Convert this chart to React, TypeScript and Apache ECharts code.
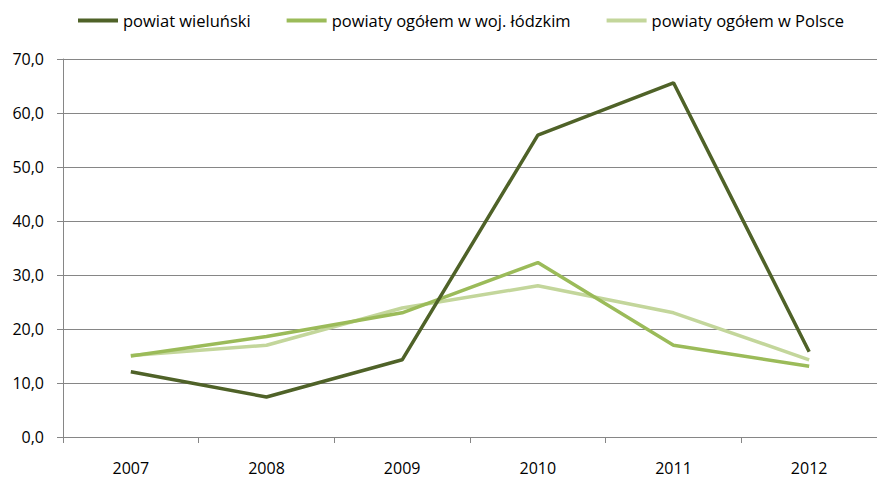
import React, { useEffect, useRef } from "react";
import * as echarts from "echarts";

const years = ["2007", "2008", "2009", "2010", "2011", "2012"];
const wielunski = [12.1, 7.4, 14.3, 55.9, 65.6, 15.8];
const lodzkie = [15.0, 18.6, 23.0, 32.3, 17.0, 13.1];
const polska = [15.1, 17.0, 23.9, 28.0, 23.0, 14.3];
const seriesNames = ["powiat wieluński", "powiaty ogółem w woj. łódzkim", "powiaty ogółem w Polsce"];
const colors = ["#4F6228", "#9BBB59", "#C3D69B"];

const FONT = "'Open Sans', sans-serif";

export default function App() {
  const ref = useRef<HTMLDivElement>(null);
  useEffect(() => {
    if (!ref.current) return;
    const chart = echarts.init(ref.current, null, { renderer: "svg" });
    const data = [wielunski, lodzkie, polska];
    chart.setOption({
      animation: false,
      textStyle: { fontFamily: FONT },
      legend: {
        top: 7,
        left: 73,
        itemGap: 36,
        itemWidth: 40,
        itemHeight: 4,
        icon: "rect",
        textStyle: { fontFamily: FONT, fontSize: 16.5, color: "#000" },
        data: seriesNames,
      },
      grid: { left: 63, right: -8, top: 59, bottom: 40, containLabel: false },
      xAxis: {
        type: "category",
        data: years,
        boundaryGap: true,
        axisLine: { lineStyle: { color: "#868686", width: 1 } },
        axisTick: { show: true, length: 6, lineStyle: { color: "#868686" } },
        axisLabel: { color: "#000", fontSize: 16, lineHeight: 17, margin: 22, fontFamily: FONT },
      },
      yAxis: {
        type: "value",
        min: 0,
        max: 70,
        interval: 10,
        axisLine: { show: true, lineStyle: { color: "#868686", width: 1 } },
        axisTick: { show: true, length: 6, lineStyle: { color: "#868686" } },
        axisLabel: {
          color: "#000",
          fontSize: 16,
          margin: 19,
          fontFamily: FONT,
          formatter: (v: number) => v.toFixed(1).replace(".", ","),
        },
        splitLine: { show: true, lineStyle: { color: "#868686", width: 1 } },
      },
      series: seriesNames.map((name, i) => ({
        name,
        type: "line",
        data: data[i],
        symbol: "none",
        color: colors[i],
        lineStyle: { color: colors[i], width: 3.5 },
        z: 10 - i,
      })),
    });
    return () => chart.dispose();
  }, []);
  return <div ref={ref} style={{ width: 877, height: 477, position: "absolute", left: 0, top: 0 }} />;
}
